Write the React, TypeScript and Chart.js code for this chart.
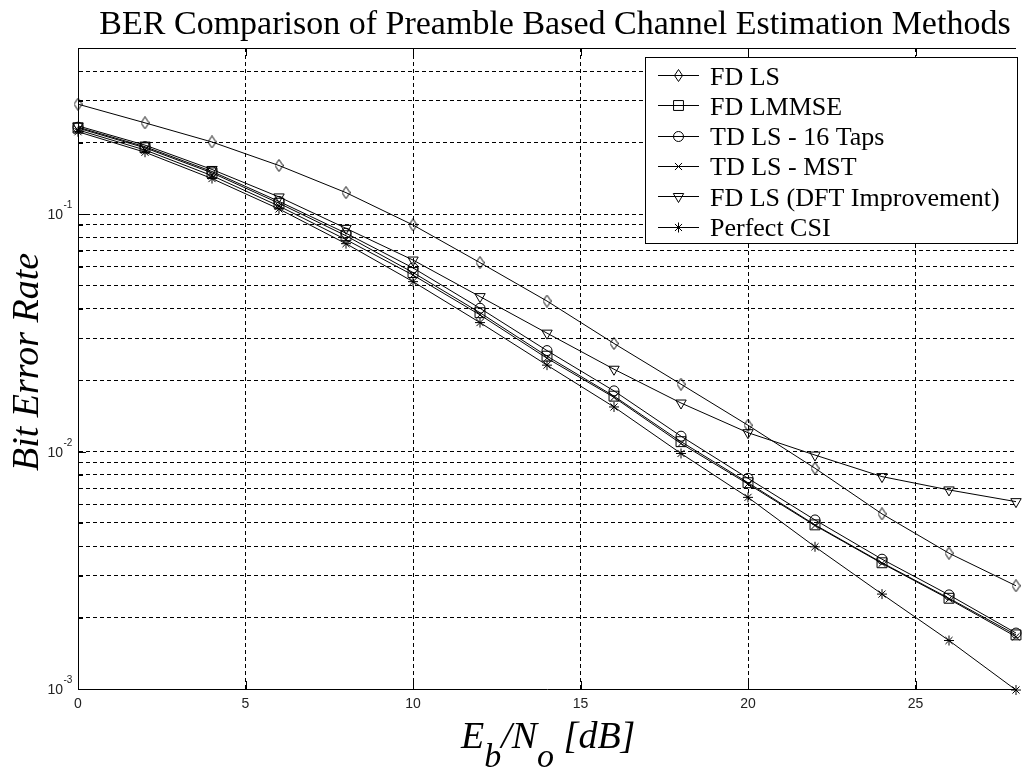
import React, { useEffect, useRef } from 'react';
import { Chart, registerables } from 'chart.js';
import { drawPoint } from 'chart.js/helpers';

Chart.register(...registerables);

// ---------- data ----------
const snrDb = [0, 2, 4, 6, 8, 10, 12, 14, 16, 18, 20, 22, 24, 26, 28];
const berFdLs = [0.29, 0.242, 0.201, 0.16, 0.123, 0.0899, 0.0624, 0.043, 0.0285, 0.0192, 0.0129, 0.0085, 0.00546, 0.00373, 0.00272];
const berFdLmmse = [0.23, 0.19, 0.149, 0.111, 0.081, 0.0567, 0.0384, 0.0252, 0.0171, 0.011, 0.00739, 0.00491, 0.0034, 0.00241, 0.00169];
const berTdLs16 = [0.232, 0.192, 0.151, 0.113, 0.083, 0.0593, 0.0401, 0.0266, 0.018, 0.0116, 0.00771, 0.00515, 0.00352, 0.00249, 0.00172];
const berTdLsMst = [0.226, 0.186, 0.145, 0.108, 0.078, 0.0553, 0.0376, 0.0247, 0.0169, 0.0108, 0.0073, 0.00488, 0.00338, 0.00239, 0.00166];
const berFdLsDft = [0.235, 0.195, 0.154, 0.118, 0.087, 0.064, 0.0449, 0.0315, 0.0222, 0.016, 0.012, 0.00966, 0.00784, 0.00689, 0.00615];
const berPerfect = [0.222, 0.182, 0.141, 0.105, 0.075, 0.0519, 0.0349, 0.0231, 0.0154, 0.00981, 0.00641, 0.00397, 0.00251, 0.0016, 0.00099];

const seriesLabels = ['FD LS', 'FD LMMSE', 'TD LS - 16 Taps', 'TD LS - MST', 'FD LS (DFT Improvement)', 'Perfect CSI'];
const seriesValues = [berFdLs, berFdLmmse, berTdLs16, berTdLsMst, berFdLsDft, berPerfect];

const xTicks = [0, 5, 10, 15, 20, 25];
const yDecades = [0.001, 0.01, 0.1];
const yDecadeExponents = ['-3', '-2', '-1'];
const yMinor = [0.002, 0.003, 0.004, 0.005, 0.006, 0.007, 0.008, 0.009, 0.02, 0.03, 0.04, 0.05, 0.06, 0.07, 0.08, 0.09, 0.2, 0.3, 0.4, 0.5];

const titleText = 'BER Comparison of Preamble Based Channel Estimation Methods';
const yLabelText = 'Bit Error Rate';

const SERIF = '"Liberation Serif", "Times New Roman", serif';
const SANS = '"Liberation Sans", Arial, sans-serif';

function makeDiamond(w: number, h: number): HTMLCanvasElement {
  const c = document.createElement('canvas');
  c.width = w;
  c.height = h;
  const g = c.getContext('2d')!;
  g.strokeStyle = '#000';
  g.lineWidth = 1;
  g.beginPath();
  g.moveTo(w / 2, 0.5);
  g.lineTo(w - 0.5, h / 2);
  g.lineTo(w / 2, h - 0.5);
  g.lineTo(0.5, h / 2);
  g.closePath();
  g.stroke();
  return c;
}

export default function App() {
  const ref = useRef<HTMLCanvasElement | null>(null);

  useEffect(() => {
    document.body.style.margin = '0';
    document.body.style.overflow = 'hidden';
    const canvas = ref.current;
    if (!canvas) return;

    const diamond = makeDiamond(9, 13);
    const styles: any[] = [diamond, 'rect', 'circle', 'crossRot', 'triangle', 'star'];
    const radii = [6, 7, 5, 5, 6, 5];
    const rotations = [0, 0, 0, 0, 180, 0];

    const datasets = seriesLabels.map((label, i) => ({
      label,
      data: snrDb.map((x, j) => ({ x, y: seriesValues[i][j] })),
      borderColor: '#000',
      borderWidth: 1,
      backgroundColor: 'rgba(0,0,0,0)',
      pointStyle: styles[i],
      pointRadius: radii[i],
      pointRotation: rotations[i],
      pointBorderColor: '#000',
      pointBackgroundColor: 'rgba(0,0,0,0)',
      pointBorderWidth: 1,
      tension: 0,
      fill: false,
      clip: false as any,
    }));

    const decor = {
      id: 'matlabDecor',
      beforeDraw(chart: any) {
        const ctx = chart.ctx;
        ctx.save();
        ctx.fillStyle = '#fff';
        ctx.fillRect(0, 0, chart.width, chart.height);
        ctx.restore();
      },
      afterDraw(chart: any) {
        const ctx = chart.ctx;
        const { left, right, top, bottom } = chart.chartArea;
        const xs = chart.scales.x;
        const ys = chart.scales.y;
        ctx.save();
        ctx.strokeStyle = '#000';
        ctx.fillStyle = '#000';
        ctx.lineWidth = 1;
        // top border
        ctx.beginPath();
        ctx.moveTo(left, Math.round(top) + 0.5);
        ctx.lineTo(right, Math.round(top) + 0.5);
        ctx.stroke();
        // inward tick marks
        ctx.beginPath();
        xTicks.forEach((v) => {
          const px = Math.round(xs.getPixelForValue(v)) + 0.5;
          ctx.moveTo(px, bottom);
          ctx.lineTo(px, bottom - 8);
          ctx.moveTo(px, top);
          ctx.lineTo(px, top + 8);
        });
        yDecades.forEach((v) => {
          const py = Math.round(ys.getPixelForValue(v)) + 0.5;
          ctx.moveTo(left, py);
          ctx.lineTo(left + 8, py);
        });
        yMinor.forEach((v) => {
          const py = Math.round(ys.getPixelForValue(v)) + 0.5;
          ctx.moveTo(left, py);
          ctx.lineTo(left + 5, py);
        });
        ctx.stroke();

        // y tick labels 10^n
        ctx.fillStyle = '#222';
        yDecades.forEach((v, i) => {
          const py = ys.getPixelForValue(v);
          ctx.font = `14px ${SANS}`;
          ctx.textAlign = 'right';
          ctx.textBaseline = 'alphabetic';
          ctx.fillText('10', 63, py + 5);
          ctx.font = `10px ${SANS}`;
          ctx.textAlign = 'left';
          ctx.fillText(yDecadeExponents[i], 63.5, py - 6);
        });

        // title
        ctx.fillStyle = '#000';
        ctx.font = `34px ${SERIF}`;
        ctx.textAlign = 'center';
        ctx.textBaseline = 'alphabetic';
        ctx.fillText(titleText, 555, 34);

        // y label
        ctx.save();
        ctx.translate(38, 362);
        ctx.rotate(-Math.PI / 2);
        ctx.font = `italic 38px ${SERIF}`;
        ctx.textAlign = 'center';
        ctx.fillText(yLabelText, 0, 0);
        ctx.restore();

        // x label E_b/N_o [dB]
        const parts: [string, boolean][] = [['E', false], ['b', true], ['/N', false], ['o', true], [' [dB]', false]];
        let cx = 461;
        ctx.textAlign = 'left';
        parts.forEach(([t, sub]) => {
          ctx.font = sub ? `italic 34px ${SERIF}` : `italic 38px ${SERIF}`;
          ctx.fillText(t, cx, sub ? 767 : 748);
          cx += ctx.measureText(t).width;
        });

        // legend
        const lx = 645.5, ly = 57.5, lw = 372, lh = 186;
        ctx.fillStyle = '#fff';
        ctx.fillRect(lx, ly, lw, lh);
        ctx.strokeStyle = '#000';
        ctx.strokeRect(lx, ly, lw, lh);
        chart.data.datasets.forEach((ds: any, i: number) => {
          const ry = 75 + i * 30.3;
          ctx.strokeStyle = '#000';
          ctx.lineWidth = 1;
          ctx.beginPath();
          ctx.moveTo(658, Math.round(ry) + 0.5);
          ctx.lineTo(699, Math.round(ry) + 0.5);
          ctx.stroke();
          ctx.fillStyle = 'rgba(0,0,0,0)';
          drawPoint(ctx, { pointStyle: ds.pointStyle, rotation: ds.pointRotation, radius: ds.pointRadius, borderWidth: 1 } as any, 678.5, Math.round(ry) + 0.5);
          ctx.fillStyle = '#000';
          ctx.font = `26px ${SERIF}`;
          ctx.textAlign = 'left';
          ctx.textBaseline = 'alphabetic';
          ctx.fillText(ds.label, 710, ry + 9.5);
        });
        ctx.restore();
      },
    };

    const chart = new Chart(canvas, {
      type: 'line',
      data: { datasets: datasets as any },
      options: {
        animation: false,
        responsive: false,
        devicePixelRatio: 1,
        layout: { padding: { left: 78, top: 48, right: 0, bottom: 49.2 } },
        plugins: { legend: { display: false }, title: { display: false }, tooltip: { enabled: false } },
        scales: {
          x: {
            type: 'linear',
            min: 0,
            max: 28,
            afterBuildTicks: (s: any) => {
              s.ticks = xTicks.map((v) => ({ value: v }));
            },
            grid: { color: '#000', lineWidth: 1, drawTicks: false },
            border: { display: true, color: '#000', width: 1, dash: [4, 3] },
            ticks: { font: { family: SANS, size: 14 }, color: '#222', padding: 7, maxRotation: 0, autoSkip: false },
          },
          y: {
            type: 'logarithmic',
            min: 0.001,
            max: 0.5,
            afterBuildTicks: (s: any) => {
              s.ticks = [...yDecades, ...yMinor].sort((a, b) => a - b).map((v) => ({ value: v }));
            },
            grid: { color: '#000', lineWidth: 1, drawTicks: false },
            border: { display: true, color: '#000', width: 1, dash: [4, 3] },
            ticks: { display: false },
          },
        },
      } as any,
      plugins: [decor],
    });
    return () => chart.destroy();
  }, []);

  return (
    <div style={{ width: 1024, height: 769 }}>
      <canvas ref={ref} width={1024} height={769} style={{ display: 'block' }} />
    </div>
  );
}
